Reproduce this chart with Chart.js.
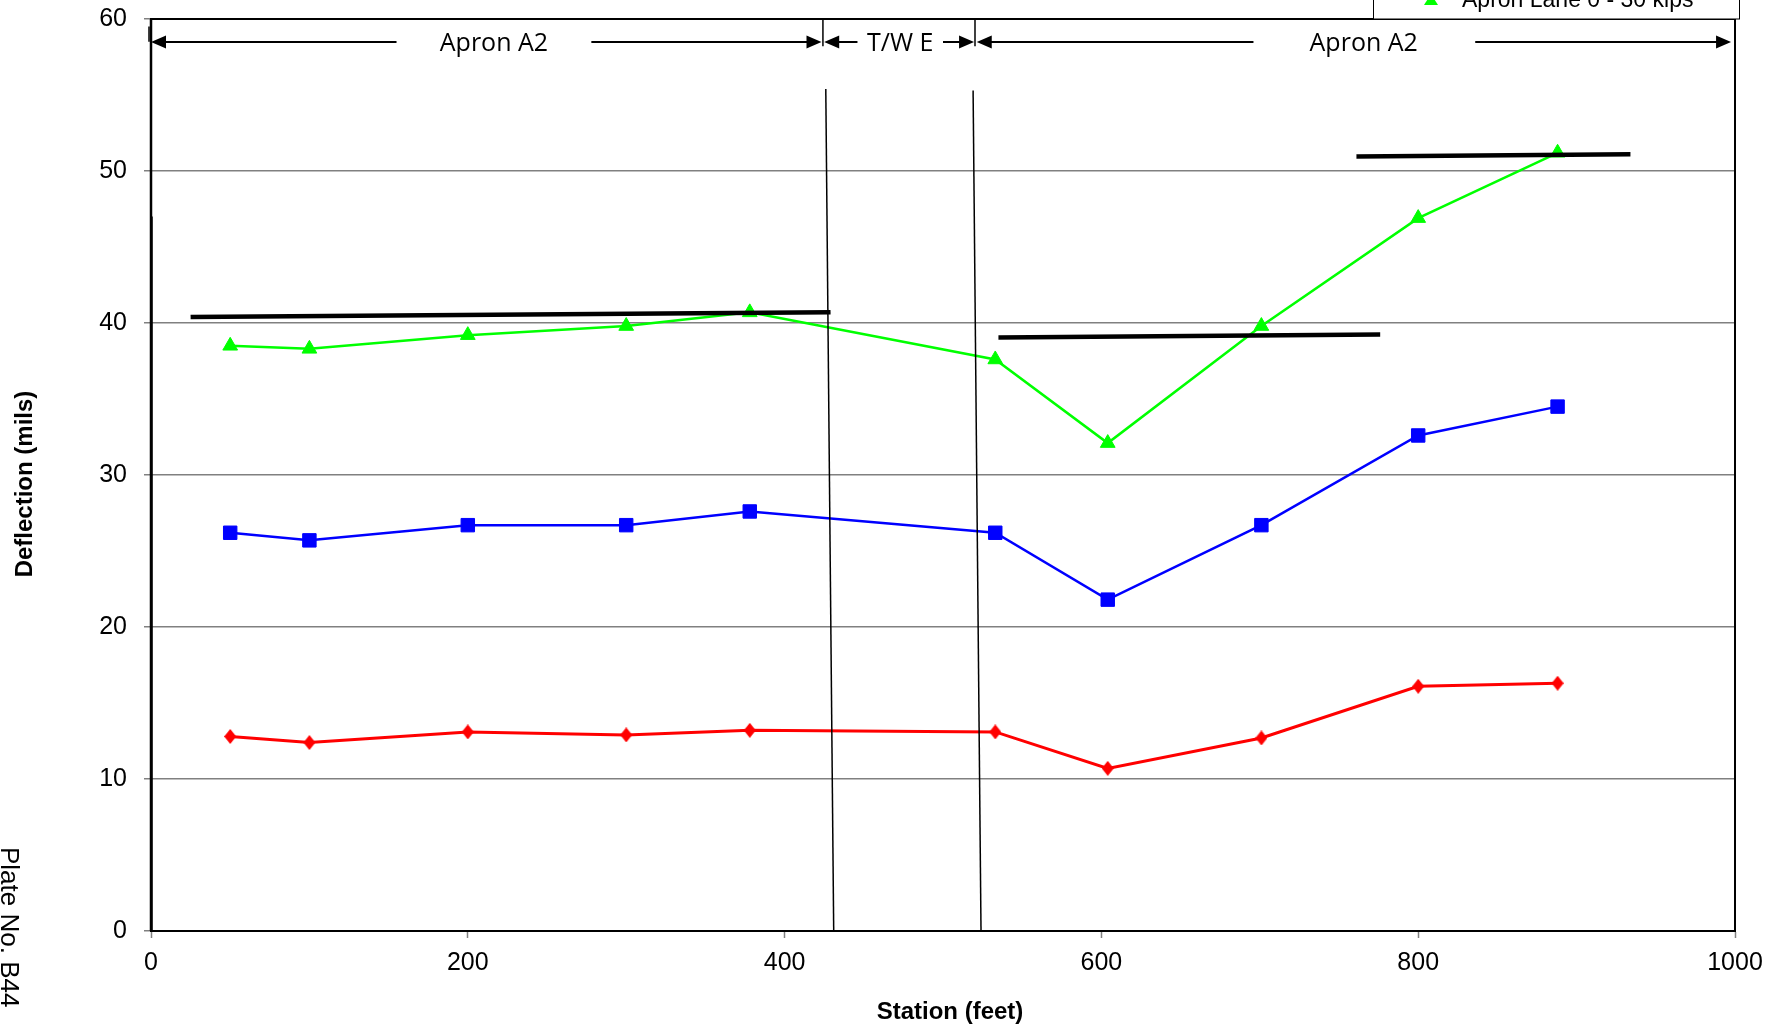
<!DOCTYPE html>
<html><head><meta charset="utf-8">
<script src="https://cdn.jsdelivr.net/npm/chart.js@4"></script>
<style>html,body{margin:0;padding:0;background:#fff;overflow:hidden}</style>
</head><body>
<canvas id="c" width="1782" height="1029"></canvas>
<script>
// ---------------- data ----------------
const stations = [50, 100, 200, 300, 378, 533, 604, 701, 800, 888];
const lane10 = [12.8, 12.4, 13.1, 12.9, 13.2, 13.1, 10.7, 12.7, 16.1, 16.3];
const lane20 = [26.2, 25.7, 26.7, 26.7, 27.6, 26.2, 21.8, 26.7, 32.6, 34.5];
const lane30 = [38.5, 38.3, 39.2, 39.8, 40.7, 37.6, 32.1, 39.8, 46.9, 51.2];

// average trend lines (x pairs, y pairs)
const trend1X = [25, 429],  trend1Y = [40.4, 40.7];
const trend2X = [535, 776], trend2Y = [39.05, 39.25];
const trend3X = [761, 934], trend3Y = [50.95, 51.1];

// section separators
const sepAX = [426, 431],   sepAY = [55.4, 0];
const sepBX = [519, 524],   sepBY = [55.3, 0];
const leftLineX = [0, 0],   leftLineY = [0, 47];

// section labels
const sectionStarts = [0, 425, 521.3];
const sectionEnds = [423.3, 519.6, 997.5];
const sectionGapStarts = [155, 446, 696];
const sectionGapEnds = [278, 500, 836];
const sectionLabels = ['Apron A2', 'T/W E', 'Apron A2'];
const sectionLabelX = [216.5, 473, 765.6];
const sectionArrowY = 58.5;
const sectionBarsX = [424.2, 520.2];

const xTicksMin = 0, xTicksMax = 1000, xStep = 200;
const yTicksMin = 0, yTicksMax = 60, yStep = 10;

const legendLabel = 'Apron Lane 0 - 30 kips';
const xTitle = 'Station (feet)';
const yTitle = 'Deflection (mils)';
const plateText = 'Plate No. B44';

// ---------------- helpers ----------------
const pts = (xs, ys) => xs.map((x, i) => ({x: x, y: ys[i]}));
function diamond(w, h, color) {
  const c = document.createElement('canvas'); c.width = w; c.height = h;
  const g = c.getContext('2d'); g.fillStyle = color;
  g.beginPath(); g.moveTo(w/2, 0); g.lineTo(w, h/2); g.lineTo(w/2, h); g.lineTo(0, h/2); g.closePath(); g.fill();
  return c;
}
const redDiamond = diamond(12, 15, '#FF0000');

function lineDs(xs, ys, color, width) {
  return {data: pts(xs, ys), showLine: true, borderColor: color, borderWidth: width,
          pointRadius: 0, pointHoverRadius: 0, fill: false};
}

const annot = {
  id: 'annot',
  afterDraw(chart) {
    const ctx = chart.ctx, xs = chart.scales.x, ys = chart.scales.y, a = chart.chartArea;
    ctx.save();
    // frame
    ctx.strokeStyle = '#000'; ctx.lineWidth = 2;
    ctx.beginPath();
    ctx.moveTo(a.left, a.top); ctx.lineTo(a.right, a.top); ctx.lineTo(a.right, a.bottom);
    ctx.stroke();
    ctx.lineWidth = 2.5;
    ctx.beginPath(); ctx.moveTo(a.left, a.top); ctx.lineTo(a.left, a.bottom); ctx.stroke();

    // section bars
    ctx.lineWidth = 1.5;
    sectionBarsX.forEach(v => {
      const px = xs.getPixelForValue(v);
      ctx.beginPath(); ctx.moveTo(px, ys.getPixelForValue(60)); ctx.lineTo(px, ys.getPixelForValue(58.2)); ctx.stroke();
    });
    {
      const px = xs.getPixelForValue(0) - 2;
      ctx.beginPath(); ctx.moveTo(px, ys.getPixelForValue(59.5)); ctx.lineTo(px, ys.getPixelForValue(58.5)); ctx.stroke();
    }
    // arrows
    const ay = Math.round(ys.getPixelForValue(sectionArrowY));
    ctx.lineWidth = 2; ctx.fillStyle = '#000';
    ctx.font = '25px "Open Sans"'; ctx.textAlign = 'center'; ctx.textBaseline = 'alphabetic';
    sectionStarts.forEach((s, i) => {
      const p0 = xs.getPixelForValue(s), p1 = xs.getPixelForValue(sectionEnds[i]);
      const g0 = xs.getPixelForValue(sectionGapStarts[i]), g1 = xs.getPixelForValue(sectionGapEnds[i]);
      ctx.beginPath(); ctx.moveTo(p0 + 10, ay); ctx.lineTo(g0, ay); ctx.moveTo(g1, ay); ctx.lineTo(p1 - 10, ay); ctx.stroke();
      ctx.beginPath(); ctx.moveTo(p0, ay); ctx.lineTo(p0 + 15, ay - 6.5); ctx.lineTo(p0 + 15, ay + 6.5); ctx.closePath(); ctx.fill();
      ctx.beginPath(); ctx.moveTo(p1, ay); ctx.lineTo(p1 - 15, ay - 6.5); ctx.lineTo(p1 - 15, ay + 6.5); ctx.closePath(); ctx.fill();
      ctx.fillText(sectionLabels[i], xs.getPixelForValue(sectionLabelX[i]), ay + 9);
    });

    // partial legend box (cut by top edge)
    ctx.fillStyle = '#fff';
    ctx.fillRect(1373, -60, 366, 79);
    ctx.strokeStyle = '#000'; ctx.lineWidth = 1;
    ctx.strokeRect(1373.5, -60, 366, 79);
    ctx.fillStyle = '#00FF00';
    ctx.beginPath(); ctx.moveTo(1431, -6); ctx.lineTo(1438, 5); ctx.lineTo(1424, 5); ctx.closePath(); ctx.fill();
    ctx.fillStyle = '#000'; ctx.textAlign = 'left';
    ctx.font = '23px "Liberation Sans"';
    ctx.fillText(legendLabel, 1462, 7);

    // axis titles
    ctx.font = 'bold 24px "Liberation Sans"'; ctx.textAlign = 'center';
    ctx.fillText(xTitle, 950, 1019);
    ctx.save(); ctx.translate(32, 484); ctx.rotate(-Math.PI/2); ctx.fillText(yTitle, 0, 0); ctx.restore();

    // plate number
    ctx.font = '26px "Liberation Sans"'; ctx.textAlign = 'left';
    ctx.save(); ctx.translate(1, 847); ctx.rotate(Math.PI/2); ctx.fillText(plateText, 0, 0); ctx.restore();
    ctx.restore();
  }
};

const tickFont = {family: '"Liberation Sans", Arial, sans-serif', size: 25};

new Chart(document.getElementById('c'), {
  type: 'scatter',
  data: {
    datasets: [
      {label: 'Apron Lane 0 - 10 kips', data: pts(stations, lane10), showLine: true, borderColor: '#FF0000', borderWidth: 3,
       pointStyle: redDiamond, backgroundColor: '#FF0000', pointRadius: 7, order: 3},
      {label: 'Apron Lane 0 - 20 kips', data: pts(stations, lane20), showLine: true, borderColor: '#0000FF', borderWidth: 2.5,
       pointStyle: 'rect', backgroundColor: '#0000FF', pointBorderColor: '#0000FF', pointBorderWidth: 1, pointRadius: 9.5, order: 3},
      {label: legendLabel, data: pts(stations, lane30), showLine: true, borderColor: '#00FF00', borderWidth: 2.5,
       pointStyle: 'triangle', backgroundColor: '#00FF00', pointBorderColor: '#00FF00', pointBorderWidth: 1, pointRadius: 8.5, order: 3},
      Object.assign(lineDs(trend1X, trend1Y, '#000', 4.5), {order: 1}),
      Object.assign(lineDs(trend2X, trend2Y, '#000', 4.5), {order: 1}),
      Object.assign(lineDs(trend3X, trend3Y, '#000', 4.5), {order: 1}),
      Object.assign(lineDs(sepAX, sepAY, '#000', 1.5), {order: 2}),
      Object.assign(lineDs(sepBX, sepBY, '#000', 1.5), {order: 2}),
      Object.assign(lineDs(leftLineX, leftLineY, '#000', 3.5), {order: 2})
    ]
  },
  options: {
    responsive: false, animation: false, devicePixelRatio: 1,
    layout: {padding: {left: 0, top: 19, right: 47, bottom: 0}},
    plugins: {legend: {display: false}, tooltip: {enabled: false}},
    scales: {
      x: {type: 'linear', min: xTicksMin, max: xTicksMax,
          ticks: {stepSize: xStep, font: tickFont, color: '#000', padding: 10, maxRotation: 0,
                  callback: v => String(v)},
          grid: {drawOnChartArea: false, tickLength: 7, tickColor: '#808080', tickWidth: 1.5},
          border: {color: '#000', width: 2},
          afterFit: s => { s.height = 98; s.paddingLeft = 0; s.paddingRight = 0; }},
      y: {type: 'linear', min: yTicksMin, max: yTicksMax,
          ticks: {stepSize: yStep, font: tickFont, color: '#000', padding: 17, callback: v => String(v)},
          grid: {color: '#808080', lineWidth: 1.5, tickLength: 7, tickColor: '#808080', tickWidth: 1.5},
          border: {color: '#000', width: 2},
          afterFit: s => { s.width = 151; s.paddingTop = 0; s.paddingBottom = 0; }}
    }
  },
  plugins: [annot]
});
</script>
</body></html>
